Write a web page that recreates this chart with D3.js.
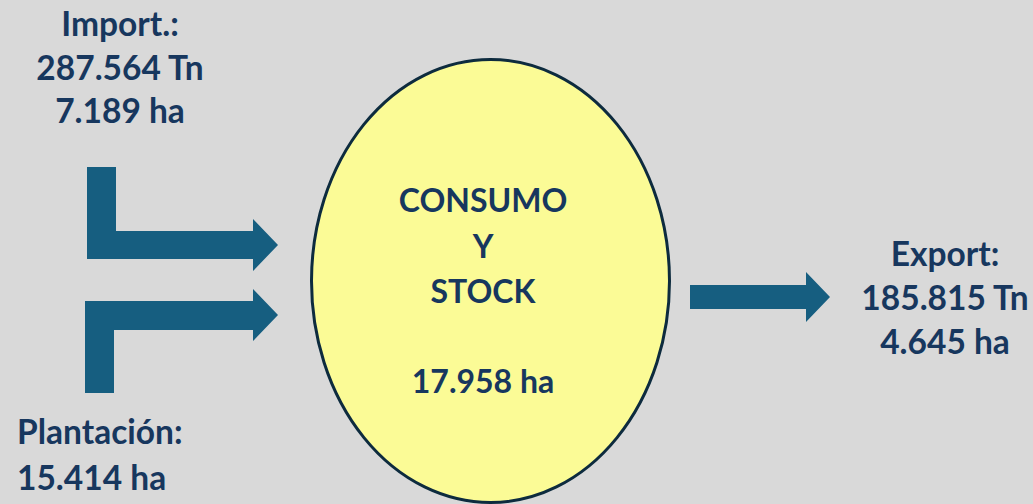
<!DOCTYPE html>
<html>
<head>
<meta charset="utf-8">
<script src="https://cdn.jsdelivr.net/npm/d3@7"></script>
<style>
  html, body { margin: 0; padding: 0; background: #d9d9d9; }
  svg { display: block; }
</style>
</head>
<body>
<div id="chart"></div>
<script>
// Datos del diagrama
const flowNames  = ["Import.:", "Plantación:", "Export:"];
const flowTn     = ["287.564 Tn", null, "185.815 Tn"];
const flowHa     = ["7.189 ha", "15.414 ha", "4.645 ha"];
const centerText = ["CONSUMO", "Y", "STOCK"];
const centerHa   = "17.958 ha";

const W = 1033, H = 504;
const textColor = "#17375e", arrowColor = "#165e80";

const svg = d3.select("#chart").append("svg")
  .attr("width", W).attr("height", H);

svg.append("rect").attr("width", W).attr("height", H).attr("fill", "#d9d9d9");

// Elipse central
svg.append("ellipse")
  .attr("cx", 490.5).attr("cy", 281)
  .attr("rx", 179).attr("ry", 221.5)
  .attr("fill", "#fbfb96")
  .attr("stroke", "#0d2b3e")
  .attr("stroke-width", 3);

// Flechas: forma de L (entrada) y recta (salida)
const line = d3.line();
// entrada superior (Import)
svg.append("path")
  .attr("d", line([[87,167],[116,167],[116,231],[253,231],[253,219],[278,245],
                   [253,271],[253,259],[87,259]]) + "Z")
  .attr("fill", arrowColor);
// entrada inferior (Plantación)
svg.append("path")
  .attr("d", line([[85,393],[114,393],[114,330],[253,330],[253,341],[278,315],
                   [253,289],[253,301],[85,301]]) + "Z")
  .attr("fill", arrowColor);
// salida (Export)
svg.append("path")
  .attr("d", line([[690,285],[806,285],[806,272],[830,297],[806,322],[806,309],[690,309]]) + "Z")
  .attr("fill", arrowColor);

const font = "Lato, 'Open Sans', sans-serif";

function block(lines, x, y0, step, anchor, size) {
  svg.append("g").selectAll("text")
    .data(lines.filter(d => d !== null))
    .join("text")
      .attr("x", x)
      .attr("y", (d, i) => y0 + i * step)
      .attr("text-anchor", anchor)
      .attr("font-family", font)
      .attr("font-weight", 700)
      .attr("font-size", size)
      .attr("fill", textColor)
      .text(d => d);
}

block([flowNames[0], flowTn[0], flowHa[0]], 120, 36, 43.5, "middle", 33.5);
block([flowNames[1], flowHa[1]], 17, 444, 46, "start", 33.5);
block([flowNames[2], flowTn[2], flowHa[2]], 945, 266, 44, "middle", 33.5);

// Texto dentro de la elipse
block(centerText, 483, 212, 45.5, "middle", 32);
block([centerHa], 483, 393, 0, "middle", 32);
</script>
</body>
</html>
